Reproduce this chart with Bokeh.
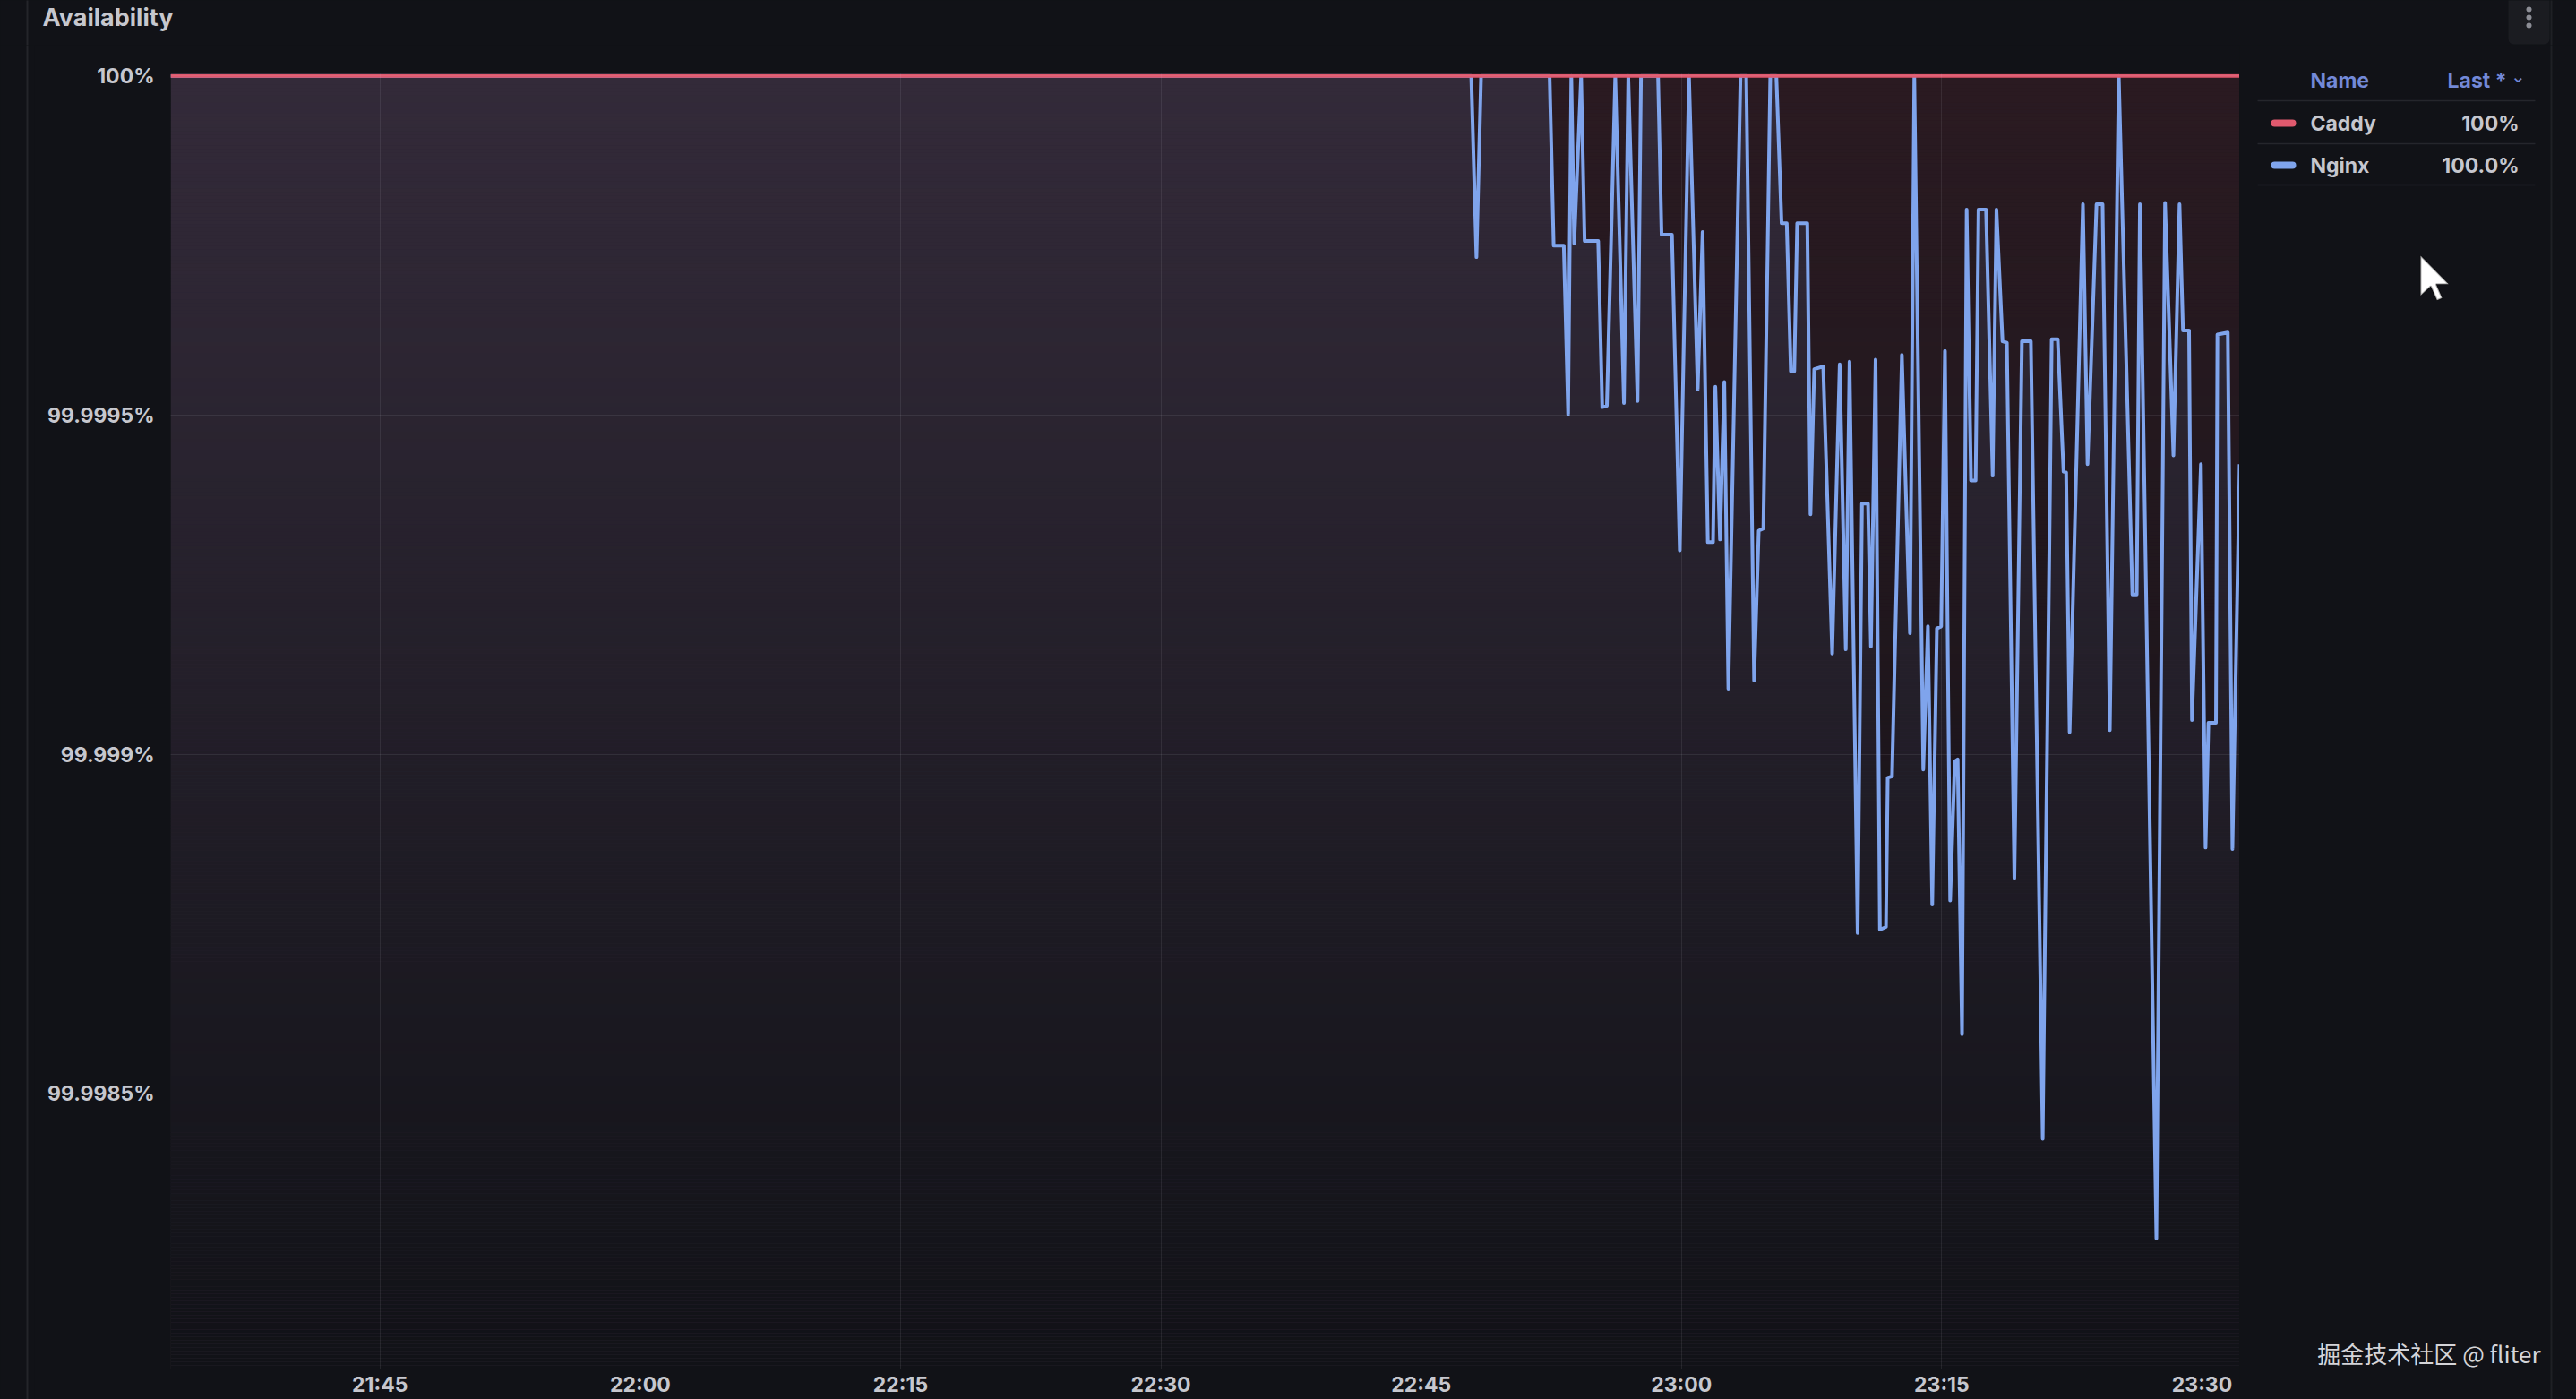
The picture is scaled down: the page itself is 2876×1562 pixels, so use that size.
import pandas as pd
from bokeh.plotting import figure
from bokeh.layouts import column, row
from bokeh.models import (Range1d, FixedTicker, DatetimeTickFormatter, Label,
                          BoxAnnotation, PolyAnnotation)
from bokeh.embed import file_html
from bokeh.resources import INLINE

# ---------------- data ----------------
title_text = "Availability"
series_names = ["Caddy", "Nginx"]
legend_header = ["Name", "Last *"]
legend_last = ["100%", "100.0%"]
watermark = "掘金技术社区 @ fliter"

time_window = ["21:32:56", "23:32:10"]

caddy_times = ["21:32:56", "23:32:10"]
caddy_values = [100.0, 100.0]

nginx_times = [
    "21:32:56", "22:47:53", "22:48:11", "22:48:27", "22:52:24", "22:52:38", "22:53:13", "22:53:28",
    "22:53:39", "22:53:49", "22:54:13", "22:54:25", "22:55:12", "22:55:26", "22:55:42", "22:56:11",
    "22:56:41", "22:56:56", "22:57:28", "22:57:40", "22:58:39", "22:58:51", "22:59:27", "22:59:54",
    "23:00:26", "23:00:56", "23:01:13", "23:01:31", "23:01:49", "23:01:57", "23:02:13", "23:02:28",
    "23:02:42", "23:03:24", "23:03:44", "23:04:11", "23:04:27", "23:04:43", "23:05:07", "23:05:28",
    "23:05:46", "23:06:04", "23:06:18", "23:06:30", "23:06:40", "23:07:15", "23:07:26", "23:07:39",
    "23:08:10", "23:08:41", "23:09:07", "23:09:28", "23:09:41", "23:10:09", "23:10:24", "23:10:45",
    "23:10:55", "23:11:11", "23:11:26", "23:11:47", "23:11:53", "23:12:08", "23:12:42", "23:13:10",
    "23:13:25", "23:13:56", "23:14:12", "23:14:27", "23:14:43", "23:14:58", "23:15:11", "23:15:29",
    "23:15:45", "23:15:55", "23:16:10", "23:16:26", "23:16:41", "23:16:57", "23:17:07", "23:17:33",
    "23:17:56", "23:18:09", "23:18:30", "23:18:45", "23:19:11", "23:19:37", "23:20:08", "23:20:49",
    "23:21:20", "23:21:41", "23:22:01", "23:22:10", "23:22:22", "23:23:08", "23:23:24", "23:23:55",
    "23:24:16", "23:24:41", "23:25:12", "23:25:59", "23:26:14", "23:26:25", "23:27:22", "23:27:52",
    "23:28:21", "23:28:42", "23:28:54", "23:29:15", "23:29:25", "23:29:56", "23:30:12", "23:30:22",
    "23:30:48", "23:30:53", "23:31:29", "23:31:45", "23:32:10",
]
nginx_values = [
    100.0,
    100.0, 99.999733, 100.0, 100.0, 99.99975, 99.99975, 99.999501, 100.0, 99.999753, 100.0,
    99.999757, 99.999757, 99.999512, 99.999514, 100.0, 99.999518, 100.0, 99.999521, 100.0, 100.0,
    99.999766, 99.999766, 99.999301, 100.0, 99.999538, 99.99977, 99.999313, 99.999313, 99.999542, 99.999317,
    99.999549, 99.999097, 100.0, 100.0, 99.999109, 99.99933, 99.999333, 100.0, 100.0, 99.999783,
    99.999783, 99.999565, 99.999565, 99.999783, 99.999783, 99.999354, 99.999568, 99.999572, 99.999149, 99.999575,
    99.999155, 99.999579, 99.998737, 99.99937, 99.99937, 99.999159, 99.999582, 99.998742, 99.998746, 99.998966,
    99.998968, 99.999589, 99.999179, 100.0, 99.998978, 99.999189, 99.998779, 99.999186, 99.999189, 99.999595,
    99.998785, 99.99899, 99.998993, 99.998588, 99.999803, 99.999404, 99.999404, 99.999803, 99.999803, 99.999411,
    99.999803, 99.999609, 99.999607, 99.998818, 99.999609, 99.999609, 99.998434, 99.999612, 99.999612, 99.999417,
    99.999416, 99.999033, 99.999811, 99.999428, 99.999811, 99.999811, 99.999036, 100.0, 99.999236, 99.999236,
    99.999811, 99.998287, 99.999813, 99.999441, 99.999811, 99.999625, 99.999625, 99.999051, 99.999428, 99.998863,
    99.999047, 99.999047, 99.999619, 99.999622, 99.998861, 99.999428,
]
assert len(nginx_times) == len(nginx_values), (len(nginx_times), len(nginx_values))

x_tick_labels = ["21:45", "22:00", "22:15", "22:30", "22:45", "23:00", "23:15", "23:30"]
y_tick_values = [99.9985, 99.999, 99.9995, 100.0]
y_tick_labels = ["99.9985%", "99.999%", "99.9995%", "100%"]

# ---------------- helpers ----------------
DAY = "2024-05-01 "
EPOCH = pd.Timestamp("1970-01-01")


def to_ms(times):
    return [(pd.Timestamp(DAY + t) - EPOCH) / pd.Timedelta(milliseconds=1) for t in times]


caddy_x = to_ms(caddy_times)
nginx_x = to_ms(nginx_times)
x0, x1 = to_ms(time_window)
x_ticks = to_ms(x_tick_labels)

# ---------------- style / layout ----------------
BG = "#111217"
TEXT = "#c6c7ce"
HEAD = "#7389d8"
RED = "#e0596e"
BLUE = "#7fa4ec"
GRID = "#ccccdc"
EDGE = "#24252a"
BG_STYLE = {"background-color": BG}

PAGE_W, PAGE_H = 2876, 1562
TOP_H = 50                 # height of the title strip
LEFT_W = 38                # narrow strip left of the chart
MAIN_R = 2500              # screen x where the plot area ends
ROW_H = PAGE_H - TOP_H
MAIN_W = MAIN_R - LEFT_W
RIGHT_W = PAGE_W - MAIN_R

FRAME_L, FRAME_T, FRAME_B = 190, 82, 1530      # screen coords of the plot area
GRAD_B = 1535                                  # where the fill gradient fades out
PX_PER_UNIT = 379.4 / 0.0005
Y_TOP_PX = 84.3
top_val = y_tick_values[-1]
y_end = top_val + (Y_TOP_PX - FRAME_T) / PX_PER_UNIT
y_start = top_val - (FRAME_B - Y_TOP_PX) / PX_PER_UNIT

p = figure(width=MAIN_W, height=ROW_H, x_axis_type="datetime", title=None,
           x_range=Range1d(x0, x1), y_range=Range1d(y_start, y_end),
           output_backend="svg", toolbar_location=None,
           min_border_left=FRAME_L - LEFT_W, min_border_right=0,
           min_border_top=FRAME_T - TOP_H, min_border_bottom=PAGE_H - FRAME_B)
p.background_fill_color = BG
p.border_fill_color = BG
p.outline_line_color = None
p.styles = BG_STYLE

for ax in (p.xaxis[0], p.yaxis[0]):
    ax.axis_line_color = None
    ax.major_tick_line_color = None
    ax.minor_tick_line_color = None
    ax.major_tick_out = 0
    ax.major_tick_in = 0
    ax.minor_tick_out = 0
    ax.major_label_text_color = TEXT
    ax.major_label_text_font = "Inter"
    ax.major_label_text_font_size = "23px"
    ax.major_label_text_font_style = "bold"
p.xaxis.ticker = FixedTicker(ticks=x_ticks, minor_ticks=[])
p.xaxis.formatter = DatetimeTickFormatter(seconds="%H:%M", minsec="%H:%M", minutes="%H:%M",
                                          hourmin="%H:%M", hours="%H:%M")
p.xaxis.major_label_standoff = 3
p.yaxis.ticker = FixedTicker(ticks=y_tick_values, minor_ticks=[])
p.yaxis.major_label_overrides = dict(zip(y_tick_values, y_tick_labels))
p.yaxis.major_label_standoff = 18

for g in (p.xgrid[0], p.ygrid[0]):
    g.grid_line_color = GRID
    g.grid_line_alpha = 0.1
    g.grid_line_width = 1
    g.level = "guide"

# area fills, then a single-layer fade per pixel band (opacity gradient to the bottom)
p.varea(x=caddy_x, y1=y_start, y2=caddy_values, fill_color=RED, fill_alpha=0.13)
p.varea(x=nginx_x, y1=y_start, y2=nginx_values, fill_color=BLUE, fill_alpha=0.12)
BAND = 4
n_bands = (FRAME_B - FRAME_T) // BAND
band_top, band_bot, band_alpha = [], [], []
for k in range(n_bands):
    t_px = FRAME_T + k * BAND
    b_px = t_px + BAND
    band_top.append(y_end - (t_px - FRAME_T) / PX_PER_UNIT)
    band_bot.append(y_end - (b_px - FRAME_T) / PX_PER_UNIT)
    band_alpha.append(min(1.0, ((t_px + b_px) / 2 - FRAME_T) / (GRAD_B - FRAME_T)))
p.quad(left=x0, right=x1, bottom=band_bot, top=band_top,
       fill_color=BG, fill_alpha=band_alpha, line_color=None)

p.line(nginx_x, nginx_values, line_color=BLUE, line_width=4, line_join="round")
p.line(caddy_x, caddy_values, line_color=RED, line_width=4, line_join="round")


# ---------------- decoration strips (their ranges are screen pixels) ----------------
def deco(w, h, X0, Y0):
    f = figure(width=w, height=h, x_range=Range1d(X0, X0 + w), y_range=Range1d(Y0 + h, Y0),
               output_backend="svg", toolbar_location=None, title=None,
               x_axis_location=None, y_axis_location=None, min_border=0)
    if "frame_align" in f.properties():
        f.frame_align = False
    f.grid.visible = False
    f.outline_line_color = None
    f.background_fill_color = BG
    f.border_fill_color = BG
    f.styles = BG_STYLE
    return f


top = deco(PAGE_W, TOP_H, 0, 0)
left = deco(LEFT_W, ROW_H, 0, TOP_H)
right = deco(RIGHT_W, ROW_H, MAIN_R, TOP_H)


def box(f, X0, Y0, X1, Y1, color, radius=0):
    f.add_layout(BoxAnnotation(left=X0, right=X1, top=Y0, bottom=Y1,
                               fill_color=color, fill_alpha=1.0, line_color=None,
                               border_radius=int(radius)))


def text(f, txt, X, Y, size, color, align="left", font="Inter", style="bold"):
    f.add_layout(Label(x=X, y=Y, text=txt, text_font=font, text_font_size=f"{size}px",
                       text_color=color, text_align=align, text_baseline="middle",
                       text_font_style=style))


# panel edges
box(top, 29, -20, 31, 60, EDGE)
box(left, 29, 40, 31, 1600, EDGE)
box(top, 2847, -20, 2849, 60, "#1f2025")
box(right, 2847, 40, 2849, 1600, "#1f2025")

# title + menu button
text(top, title_text, 47, 19, 27, TEXT)
box(top, 2800, -20, 2846, 49, "#1b1c21", radius=6)
for yy in (10, 19, 28):
    box(top, 2820, yy - 3, 2826, yy + 3, "#8c8d95", radius=3)

# legend table
for yy in (112, 160, 206):
    box(right, 2520, yy - 0.75, 2830, yy + 0.75, "#25262c")
box(right, 2535, 133, 2563, 141, RED, radius=4)
box(right, 2535, 180, 2563, 188, BLUE, radius=4)
text(right, legend_header[0], 2579, 89, 23, HEAD)
text(right, legend_header[1], 2798, 89, 23, HEAD, align="right")
text(right, "⌄", 2811, 84, 20, HEAD, align="center", font="DejaVu Sans", style="normal")
text(right, series_names[0], 2579, 137, 23, TEXT)
text(right, series_names[1], 2579, 184, 23, TEXT)
text(right, legend_last[0], 2812, 137, 23, TEXT, align="right")
text(right, legend_last[1], 2812, 184, 23, TEXT, align="right")

# watermark
text(right, watermark, 2836, 1510, 26, "#d4d4d8", align="right",
     font="Noto Sans CJK SC", style="normal")

# mouse cursor
tipX, tipY, s = 2702, 285, 2.7
arrow = [(0, 0), (0, 16.5), (4.2, 12.6), (6.8, 18.4), (8.9, 17.5), (6.4, 11.8), (11.6, 11.8)]
right.add_layout(PolyAnnotation(xs=[tipX + s * a for a, b in arrow],
                                ys=[tipY + s * b for a, b in arrow],
                                fill_color="white", fill_alpha=1.0,
                                line_color="black", line_width=2))

layout = column(top, row(left, p, right, spacing=0, styles=BG_STYLE), spacing=0, styles=BG_STYLE)
open("out.html", "w").write(file_html(layout, INLINE))
